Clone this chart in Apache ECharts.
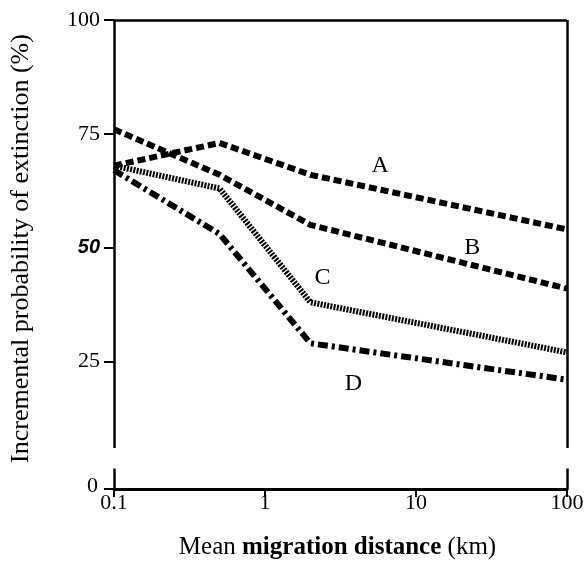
<!DOCTYPE html>
<html>
<head>
<meta charset="utf-8">
<script src="https://cdn.jsdelivr.net/npm/echarts@6/dist/echarts.min.js"></script>
<style>
  html, body { margin: 0; padding: 0; background: #fff; }
  #chart { width: 588px; height: 569px; }
</style>
</head>
<body>
<div id="chart"></div>
<script>
const chart = echarts.init(document.getElementById('chart'));
const serif = '"Liberation Serif", "DejaVu Serif", serif';

// Mean migration distance (km), log scale
const distances = [0.1, 0.5, 2, 100];

// Incremental probability of extinction (%)
const curveA = [68, 73, 66, 54];
const curveB = [76, 66, 55, 41];
const curveC = [68, 63, 38, 27];
const curveD = [67, 53, 29, 21];

const curveNames = ['A', 'B', 'C', 'D'];
const curveValues = [curveA, curveB, curveC, curveD];

const xTicks = [0.1, 1, 10, 100];
const yTicks = [25, 50, 75, 100];

// The y axis is broken below 25: its zero sits a little lower than a linear scale would put it
const brokenZero = -3;

// Dash patterns: A and B dashed, C finely striped, D dash-dot
const dashes = [[8, 4], [8, 4], [2, 1.3], [10, 4, 3, 4]];
// Where each letter sits, in data units
const letterSpots = [[5.8, 68], [23.6, 50], [2.4, 43.3], [3.85, 20.2]];

const series = curveNames.map((name, i) => ({
  name: name,
  type: 'line',
  data: distances.map((d, j) => [d, curveValues[i][j]]),
  symbol: 'none',
  lineStyle: { color: '#000', width: 6, type: dashes[i], cap: 'butt', join: 'miter' },
  markPoint: {
    silent: true,
    symbol: 'rect',
    symbolSize: 1,
    itemStyle: { color: 'transparent' },
    label: {
      show: true,
      position: 'inside',
      formatter: name,
      color: '#000',
      fontFamily: serif,
      fontSize: 24
    },
    data: [{ coord: letterSpots[i] }]
  }
}));

// Box around the plot, with the small break in both verticals
series[0].markLine = {
  silent: true,
  symbol: 'none',
  label: { show: false },
  lineStyle: { color: '#000', width: 2.5, type: 'solid' },
  data: [
    [{ coord: [0.1, 100] }, { coord: [100, 100] }],
    [{ coord: [0.1, 100] }, { coord: [0.1, 6] }],
    [{ coord: [0.1, 1.5] }, { coord: [0.1, brokenZero] }],
    [{ coord: [100, 100] }, { coord: [100, 6] }],
    [{ coord: [100, 1.5] }, { coord: [100, brokenZero] }]
  ]
};

chart.setOption({
  animation: false,
  grid: { left: 113, right: 21, top: 20, bottom: 80 },
  xAxis: {
    type: 'log',
    logBase: 10,
    min: 0.1,
    max: 100,
    name: '{n|Mean }{b|migration distance}{n| (km)}',
    nameLocation: 'middle',
    nameGap: 46,
    nameTextStyle: {
      padding: [0, 0, 0, -6],
      rich: {
        n: { fontFamily: serif, fontSize: 25, color: '#000' },
        b: { fontFamily: serif, fontSize: 25, fontWeight: 'bold', color: '#000' }
      }
    },
    axisLine: { show: true, onZero: false, lineStyle: { color: '#000', width: 3 } },
    axisTick: { show: true, inside: false, length: 8, customValues: xTicks, lineStyle: { color: '#000', width: 2 } },
    minorTick: { show: false },
    splitLine: { show: false },
    axisLabel: {
      customValues: xTicks,
      margin: 3,
      color: '#000',
      fontFamily: serif,
      fontSize: 22,
      formatter: (v) => String(v)
    }
  },
  yAxis: {
    type: 'value',
    min: brokenZero,
    max: 100,
    name: 'Incremental probability of extinction (%)',
    nameLocation: 'middle',
    nameRotate: 90,
    nameGap: 80,
    nameTextStyle: { fontFamily: serif, fontSize: 26, color: '#000', padding: [0, 0, 0, 12] },
    axisLine: { show: false },
    axisTick: { show: true, length: 10, customValues: [brokenZero].concat(yTicks), lineStyle: { color: '#000', width: 2 } },
    splitLine: { show: false },
    axisLabel: {
      customValues: [brokenZero].concat(yTicks),
      margin: 14,
      color: '#000',
      fontFamily: serif,
      fontSize: 22,
      formatter: (v) => {
        if (v === brokenZero) return '{z|0}';
        if (v === 50) return '{it|50}';
        return String(v);
      },
      rich: {
        z: { fontFamily: serif, fontSize: 22, color: '#000', padding: [0, 2, 6, 0] },
        it: { fontFamily: '"Liberation Sans", Arial, sans-serif', fontStyle: 'italic', fontWeight: 'bold', fontSize: 20, color: '#000' }
      }
    }
  },
  series: series
});
</script>
</body>
</html>
